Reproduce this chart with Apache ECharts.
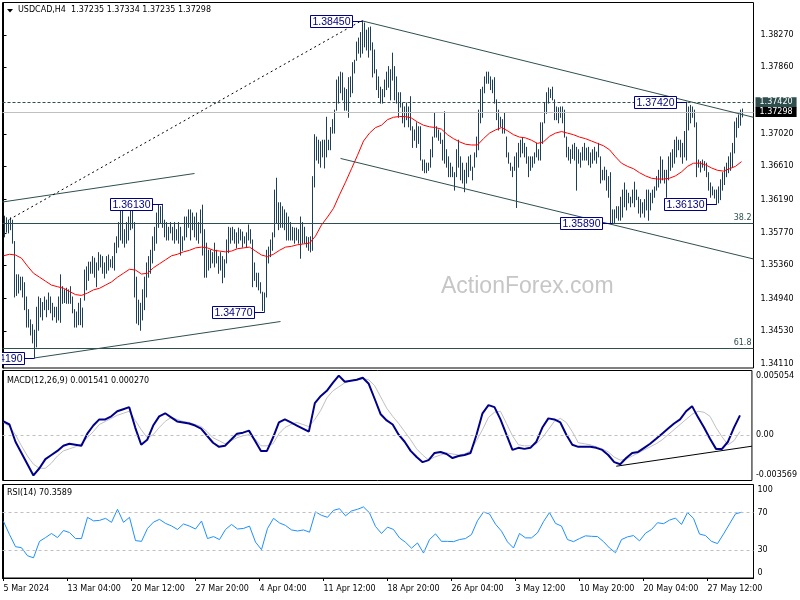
<!DOCTYPE html>
<html><head><meta charset="utf-8">
<script src="https://cdn.jsdelivr.net/npm/echarts@6/dist/echarts.min.js"></script>
<style>html,body{margin:0;padding:0;background:#fff}#c{width:800px;height:600px}</style>
</head><body><div id="c"></div>
<script>
// ---------- DATA ----------
const symbolName = 'USDCAD,H4';
const lastBarOHLC = [1.37235, 1.37334, 1.37235, 1.37298];
const timeLabels = ['5 Mar 2024','13 Mar 04:00','20 Mar 12:00','27 Mar 20:00','4 Apr 04:00','11 Apr 12:00','18 Apr 20:00','26 Apr 04:00','3 May 12:00','10 May 20:00','20 May 04:00','27 May 12:00'];
const barsPerLabel = 32;

const highs = [
1.3598,1.3596,1.3593,1.3596,1.3593,1.3566,1.3524,1.3524,1.3521,1.3521,
1.3514,1.3496,1.3480,1.3467,1.3461,1.3454,1.3483,1.3496,1.3494,1.3489,
1.3496,1.3492,1.3501,1.3496,1.3488,1.3483,1.3483,1.3496,1.3524,1.3509,
1.3505,1.3507,1.3505,1.3509,1.3496,1.3480,1.3477,1.3488,1.3494,1.3482,
1.3530,1.3534,1.3540,1.3540,1.3547,1.3545,1.3539,1.3552,1.3549,1.3547,
1.3539,1.3547,1.3549,1.3543,1.3547,1.3564,1.3572,1.3590,1.3613,1.3606,
1.3581,1.3590,1.3597,1.3612,1.3606,1.3590,1.3521,1.3492,1.3488,1.3505,
1.3521,1.3539,1.3547,1.3555,1.3572,1.3584,1.3602,1.3612,1.3610,1.3613,
1.3593,1.3590,1.3584,1.3590,1.3584,1.3590,1.3581,1.3590,1.3584,1.3572,
1.3597,1.3597,1.3606,1.3606,1.3602,1.3597,1.3602,1.3590,1.3606,1.3612,
1.3581,1.3564,1.3555,1.3555,1.3552,1.3564,1.3555,1.3547,1.3552,1.3547,
1.3543,1.3568,1.3584,1.3583,1.3584,1.3581,1.3577,1.3583,1.3581,1.3578,
1.3572,1.3577,1.3587,1.3581,1.3568,1.3539,1.3526,1.3526,1.3514,1.3502,
1.3501,1.3555,1.3559,1.3568,1.3577,1.3631,1.3646,1.3615,1.3615,1.3610,
1.3606,1.3602,1.3597,1.3590,1.3584,1.3583,1.3583,1.3581,1.3597,1.3590,
1.3584,1.3572,1.3571,1.3572,1.3648,1.3701,1.3698,1.3694,1.3692,1.3694,
1.3694,1.3723,1.3694,1.3710,1.3720,1.3732,1.3770,1.3774,1.3780,1.3779,
1.3760,1.3758,1.3773,1.3774,1.3792,1.3795,1.3818,1.3823,1.3830,1.3845,
1.3842,1.3833,1.3836,1.3837,1.3817,1.3808,1.3783,1.3774,1.3761,1.3758,
1.3770,1.3780,1.3787,1.3783,1.3804,1.3787,1.3774,1.3754,1.3754,1.3741,
1.3736,1.3741,1.3736,1.3749,1.3711,1.3707,1.3716,1.3711,1.3711,1.3669,
1.3669,1.3665,1.3665,1.3682,1.3698,1.3728,1.3711,1.3707,1.3703,1.3694,
1.3730,1.3682,1.3673,1.3665,1.3660,1.3653,1.3682,1.3694,1.3673,1.3665,
1.3656,1.3665,1.3673,1.3675,1.3660,1.3678,1.3698,1.3732,1.3758,1.3761,
1.3774,1.3780,1.3780,1.3774,1.3770,1.3773,1.3745,1.3732,1.3723,1.3720,
1.3728,1.3698,1.3678,1.3665,1.3660,1.3673,1.3678,1.3690,1.3694,1.3697,
1.3690,1.3685,1.3673,1.3673,1.3673,1.3678,1.3690,1.3682,1.3716,1.3716,
1.3741,1.3754,1.3760,1.3758,1.3761,1.3745,1.3736,1.3735,1.3736,1.3736,
1.3732,1.3698,1.3685,1.3682,1.3688,1.3690,1.3685,1.3682,1.3678,1.3685,
1.3690,1.3684,1.3685,1.3678,1.3682,1.3685,1.3679,1.3690,1.3673,1.3656,
1.3660,1.3656,1.3648,1.3653,1.3606,1.3606,1.3610,1.3610,1.3622,1.3631,
1.3640,1.3631,1.3627,1.3622,1.3631,1.3641,1.3631,1.3622,1.3619,1.3615,
1.3619,1.3631,1.3631,1.3627,1.3631,1.3635,1.3648,1.3656,1.3673,1.3669,
1.3656,1.3656,1.3673,1.3678,1.3682,1.3694,1.3698,1.3694,1.3694,1.3690,
1.3705,1.3742,1.3736,1.3738,1.3736,1.3732,1.3716,1.3669,1.3667,1.3669,
1.3667,1.3665,1.3653,1.3640,1.3635,1.3631,1.3631,1.3635,1.3644,1.3653,
1.3660,1.3665,1.3673,1.3678,1.3690,1.3717,1.3722,1.3726,1.3732,1.37334
];
const lows = [
1.3572,1.3578,1.3577,1.3581,1.3564,1.3496,1.3498,1.3501,1.3505,1.3496,
1.3480,1.3458,1.3458,1.3448,1.3438,1.3419,1.3433,1.3454,1.3471,1.3467,
1.3480,1.3471,1.3480,1.3476,1.3467,1.3471,1.3464,1.3467,1.3464,1.3488,
1.3489,1.3488,1.3488,1.3488,1.3476,1.3458,1.3458,1.3461,1.3461,1.3458,
1.3492,1.3505,1.3517,1.3526,1.3526,1.3521,1.3509,1.3530,1.3534,1.3526,
1.3520,1.3526,1.3530,1.3534,1.3533,1.3530,1.3552,1.3559,1.3568,1.3564,
1.3559,1.3564,1.3568,1.3581,1.3583,1.3496,1.3463,1.3461,1.3454,1.3467,
1.3480,1.3496,1.3521,1.3526,1.3539,1.3555,1.3564,1.3584,1.3590,1.3584,
1.3572,1.3568,1.3568,1.3577,1.3568,1.3564,1.3568,1.3564,1.3549,1.3555,
1.3568,1.3572,1.3584,1.3568,1.3581,1.3572,1.3568,1.3564,1.3577,1.3549,
1.3521,1.3521,1.3530,1.3533,1.3539,1.3534,1.3539,1.3526,1.3530,1.3514,
1.3521,1.3539,1.3552,1.3564,1.3568,1.3564,1.3558,1.3564,1.3568,1.3559,
1.3564,1.3559,1.3568,1.3564,1.3509,1.3517,1.3509,1.3505,1.3501,1.3479,
1.3477,1.3496,1.3539,1.3547,1.3555,1.3572,1.3590,1.3581,1.3584,1.3584,
1.3581,1.3568,1.3568,1.3568,1.3568,1.3564,1.3568,1.3564,1.3545,1.3564,
1.3564,1.3559,1.3555,1.3553,1.3555,1.3635,1.3669,1.3665,1.3660,1.3673,
1.3659,1.3673,1.3682,1.3682,1.3703,1.3703,1.3732,1.3741,1.3754,1.3745,
1.3732,1.3732,1.3723,1.3749,1.3754,1.3779,1.3795,1.3804,1.3799,1.3804,
1.3812,1.3808,1.3799,1.3808,1.3774,1.3779,1.3758,1.3748,1.3741,1.3741,
1.3749,1.3758,1.3761,1.3745,1.3770,1.3745,1.3741,1.3723,1.3736,1.3716,
1.3711,1.3720,1.3711,1.3707,1.3685,1.3694,1.3685,1.3690,1.3669,1.3656,
1.3653,1.3653,1.3656,1.3660,1.3673,1.3698,1.3698,1.3694,1.3690,1.3669,
1.3665,1.3660,1.3648,1.3648,1.3648,1.3631,1.3648,1.3660,1.3644,1.3640,
1.3629,1.3640,1.3648,1.3656,1.3644,1.3660,1.3673,1.3682,1.3716,1.3723,
1.3754,1.3766,1.3766,1.3758,1.3754,1.3741,1.3720,1.3707,1.3711,1.3703,
1.3703,1.3673,1.3665,1.3656,1.3648,1.3656,1.3609,1.3660,1.3673,1.3678,
1.3673,1.3665,1.3648,1.3656,1.3660,1.3665,1.3673,1.3669,1.3669,1.3690,
1.3716,1.3728,1.3741,1.3748,1.3745,1.3720,1.3720,1.3716,1.3723,1.3716,
1.3698,1.3673,1.3669,1.3665,1.3671,1.3669,1.3631,1.3665,1.3660,1.3669,
1.3669,1.3669,1.3663,1.3660,1.3665,1.3669,1.3665,1.3673,1.3640,1.3644,
1.3644,1.3631,1.3622,1.3590,1.3589,1.3590,1.3596,1.3593,1.3593,1.3597,
1.3610,1.3606,1.3615,1.3610,1.3615,1.3610,1.3619,1.3602,1.3597,1.3602,
1.3597,1.3606,1.3593,1.3606,1.3615,1.3622,1.3631,1.3635,1.3640,1.3644,
1.3640,1.3622,1.3644,1.3656,1.3660,1.3665,1.3673,1.3682,1.3673,1.3665,
1.3673,1.3669,1.3707,1.3716,1.3723,1.3711,1.3648,1.3660,1.3654,1.3660,
1.3656,1.3648,1.3631,1.3622,1.3625,1.3621,1.3613,1.3615,1.3619,1.3631,
1.3638,1.3648,1.3653,1.3656,1.3660,1.3678,1.3698,1.3710,1.3713,1.37235
];

// indicator lines, one value every `lineStep` bars
const lineStep = 3;
const maLine = [
1.3548,1.3550,1.3549,1.3545,1.3535,1.3526,1.3521,1.3516,1.3511,1.3509,
1.3507,1.3503,1.3499,1.3498,1.3501,1.3505,1.3507,1.3511,1.3515,1.3521,
1.3526,1.3531,1.3530,1.3525,1.3526,1.3533,1.3538,1.3543,1.3548,1.3550,
1.3553,1.3555,1.3558,1.3559,1.3558,1.3555,1.3554,1.3553,1.3554,1.3557,
1.3558,1.3559,1.3554,1.3549,1.3547,1.3550,1.3555,1.3559,1.3560,1.3562,
1.3563,1.3564,1.3573,1.3587,1.3597,1.3608,1.3625,1.3641,1.3658,1.3675,
1.3693,1.3703,1.3710,1.3713,1.3720,1.3723,1.3724,1.3724,1.3722,1.3717,
1.3713,1.3711,1.3710,1.3708,1.3701,1.3696,1.3692,1.3689,1.3688,1.3688,
1.3696,1.3703,1.3707,1.3710,1.3706,1.3701,1.3698,1.3697,1.3694,1.3690,
1.3692,1.3699,1.3703,1.3705,1.3703,1.3701,1.3698,1.3696,1.3693,1.3690,
1.3687,1.3682,1.3673,1.3665,1.3661,1.3658,1.3653,1.3649,1.3646,1.3645,
1.3645,1.3646,1.3649,1.3654,1.3661,1.3665,1.3665,1.3663,1.3659,1.3656,
1.3655,1.3658,1.3661,1.3667
];
const macdLine = [
0.00106,0.00082,-0.00053,-0.00141,-0.00229,-0.00317,-0.00261,-0.00189,-0.00157,-0.00125,
-0.00085,-0.00069,-0.00077,-0.00085,0.00010,0.00074,0.00122,0.00122,0.00146,0.00186,
0.00202,0.00218,0.00058,-0.00077,-0.00038,0.00074,0.00146,0.00170,0.00138,0.00106,
0.00098,0.00090,0.00074,0.00050,-0.00006,-0.00061,-0.00093,-0.00085,-0.00038,0.00010,
0.00018,0.00034,-0.00045,-0.00125,-0.00125,-0.00022,0.00098,0.00122,0.00098,0.00074,
0.00050,0.00026,0.00250,0.00306,0.00346,0.00409,0.00465,0.00417,0.00425,0.00433,
0.00449,0.00401,0.00282,0.00162,0.00114,0.00082,0.00002,-0.00053,-0.00125,-0.00173,
-0.00213,-0.00197,-0.00141,-0.00133,-0.00149,-0.00181,-0.00165,-0.00157,-0.00141,0.00002,
0.00170,0.00234,0.00218,0.00122,0.00002,-0.00117,-0.00101,-0.00109,-0.00101,-0.00053,
0.00058,0.00130,0.00122,0.00098,0.00002,-0.00077,-0.00093,-0.00093,-0.00093,-0.00101,
-0.00117,-0.00157,-0.00213,-0.00229,-0.00181,-0.00141,-0.00133,-0.00101,-0.00069,-0.00030,
0.00010,0.00050,0.00090,0.00122,0.00186,0.00226,0.00138,0.00058,-0.00030,-0.00109,
-0.00109,-0.00053,0.00058,0.001541
];
const signalLine = [
0.00098,0.00066,0.00002,-0.00085,-0.00165,-0.00229,-0.00261,-0.00261,-0.00221,-0.00165,
-0.00125,-0.00109,-0.00093,-0.00069,-0.00022,0.00026,0.00082,0.00106,0.00130,0.00154,
0.00170,0.00186,0.00114,0.00042,-0.00022,0.00002,0.00058,0.00106,0.00138,0.00122,
0.00106,0.00098,0.00082,0.00066,0.00026,-0.00022,-0.00045,-0.00069,-0.00045,-0.00022,
-0.00006,0.00002,-0.00030,-0.00085,-0.00085,-0.00069,0.00010,0.00058,0.00082,0.00098,
0.00082,0.00066,0.00122,0.00194,0.00290,0.00346,0.00377,0.00409,0.00425,0.00433,
0.00441,0.00433,0.00385,0.00298,0.00210,0.00146,0.00090,0.00026,-0.00038,-0.00109,
-0.00157,-0.00197,-0.00173,-0.00157,-0.00141,-0.00149,-0.00157,-0.00149,-0.00125,-0.00045,
0.00042,0.00138,0.00178,0.00186,0.00090,-0.00006,-0.00077,-0.00085,-0.00085,-0.00069,
-0.00022,0.00042,0.00106,0.00130,0.00098,0.00026,-0.00061,-0.00069,-0.00077,-0.00093,
-0.00109,-0.00133,-0.00173,-0.00197,-0.00189,-0.00165,-0.00141,-0.00117,-0.00093,-0.00069,
-0.00038,0.00002,0.00042,0.00082,0.00122,0.00162,0.00186,0.00178,0.00146,0.00058,
-0.00014,-0.00077,-0.00045,0.00027
];
const rsiLine = [
60.5,46.5,33.5,32.4,23.8,21.6,39.2,43.2,47.6,43.2,
50.8,48.6,42.2,42.2,64.9,61.1,61.6,63.8,59.5,73.5,
59.5,64.9,40.0,39.2,53.0,59.8,62.7,58.4,55.7,51.9,
57.8,55.5,52.4,60.9,42.2,44.3,41.1,51.9,57.3,52.4,
53.0,55.5,38.4,30.3,53.0,63.8,58.9,56.2,51.4,50.3,
51.4,49.0,70.8,67.0,64.9,72.4,74.1,66.5,71.7,73.5,
76.0,69.7,55.1,47.6,54.4,51.9,42.9,38.2,31.9,37.5,
26.7,41.1,47.2,39.2,39.2,38.9,41.1,42.2,46.5,61.3,
70.6,68.4,57.6,50.1,38.6,32.1,47.6,42.9,42.9,48.3,
60.3,70.0,58.4,55.5,41.1,38.9,42.2,45.1,44.6,44.3,
38.9,32.1,27.0,41.1,44.0,45.4,39.7,47.9,51.9,59.1,
58.1,61.9,64.1,57.3,70.0,63.8,47.0,45.4,39.2,36.8,
47.0,57.8,68.6,70.3589
];

// axis tick labels
const priceTicks = [1.38270,1.37860,1.37020,1.36610,1.36190,1.35770,1.35360,1.34940,1.34530,1.34110];
const macdTicks = [0.005054, 0, -0.003569];
const macdTickText = ['0.005054', '0.00', '-0.003569'];
const rsiTicks = [100, 70, 30, 0];
const rsiLevels = [70, 30];

// levels and drawings (bar index, price)
const lastPrice = 1.37298;
const resistanceLevel = 1.37420;
const fib382 = 1.35890, fib618 = 1.34315;
const priceNotes = [[179,1.38450],[79,1.36130],[130,1.34770],[15,1.34190],[304,1.35890],[341,1.37420],[356,1.36130]];
const channelLines = [
  [[179,1.3845],[375,1.3723]],
  [[168.5,1.3671],[375,1.3544]],
  [[15.5,1.3419],[138.5,1.3465]],
  [[-0.5,1.3616],[95.5,1.3652]]
];
const dottedLine = [[3,1.3594],[179,1.3845]];
const macdTrend = [[307,-0.00245],[375,-0.00088]];

// ---------- CHART ----------
const FONT = 'DejaVu Sans';
const BAR_COLOR = '#1f3f56';
const SLATE = '#2f4f4f';
const X_MIN = -0.5, X_MAX = 375;
const lineData = arr => arr.map((v, k) => [k * lineStep, v]);

const tag = (bg, text) => ({
  show: true, position: 'end', distance: 2, formatter: text,
  color: '#fff', backgroundColor: bg, padding: [1, 4, 0, 4],
  fontFamily: FONT, fontSize: 8, lineHeight: 9
});
const fibLabel = text => ({
  show: true, position: 'insideEndTop', distance: [2, 1], formatter: text,
  color: SLATE, fontFamily: FONT, fontSize: 8
});
const seg = (pts, style) => [{coord: pts[0], lineStyle: style}, {coord: pts[1]}];

const grids = [
  {left: 2.5, top: 2.5, width: 751, height: 365.5},
  {left: 2.5, top: 370.5, width: 751, height: 110},
  {left: 2.5, top: 484.5, width: 751, height: 93.5}
].map(g => Object.assign(g, {show: true, borderColor: '#000', borderWidth: 1, backgroundColor: 'transparent', containLabel: false}));

const hiddenX = gi => ({gridIndex: gi, type: 'value', min: X_MIN, max: X_MAX, show: false, splitLine: {show: false}});
const labelCustom = timeLabels.map((_, k) => k * barsPerLabel);

const option = {
  animation: false,
  backgroundColor: '#fff',
  grid: grids,
  xAxis: [
    hiddenX(0), hiddenX(1),
    {gridIndex: 2, type: 'value', min: X_MIN, max: X_MAX, splitLine: {show: false},
     axisLine: {show: true, lineStyle: {color: '#000'}},
     axisTick: {show: true, length: 3, customValues: labelCustom, lineStyle: {color: '#000'}},
     axisLabel: {customValues: labelCustom, align: 'left', margin: 7, color: '#000', fontFamily: FONT, fontSize: 8,
       formatter: v => timeLabels[Math.round(v / barsPerLabel)] || ''}}
  ],
  yAxis: [
    {gridIndex: 0, type: 'value', position: 'right', min: 1.34063, max: 1.38680, splitLine: {show: false},
     axisLine: {show: true, lineStyle: {color: '#000'}},
     axisTick: {show: true, length: 3, customValues: priceTicks, lineStyle: {color: '#000'}},
     axisLabel: {customValues: priceTicks, margin: 7, color: '#000', fontFamily: FONT, fontSize: 8,
       formatter: v => v.toFixed(5)}},
    {gridIndex: 1, type: 'value', position: 'right', min: -0.003569, max: 0.005054, splitLine: {show: false},
     axisLine: {show: true, lineStyle: {color: '#000'}},
     axisTick: {show: false},
     axisLabel: {customValues: macdTicks, margin: 4, color: '#000', fontFamily: FONT, fontSize: 8, lineHeight: 11,
       formatter: v => {
         let k = 0; macdTicks.forEach((t, j) => { if (Math.abs(t - v) < 1e-7) k = j; });
         if (k === 0) return '\n' + macdTickText[k];
         if (k === macdTicks.length - 1) return macdTickText[k] + '\n';
         return macdTickText[k];
       }}},
    {gridIndex: 2, type: 'value', position: 'right', min: 0, max: 100, splitLine: {show: false},
     axisLine: {show: true, lineStyle: {color: '#000'}},
     axisTick: {show: false},
     axisLabel: {customValues: rsiTicks, margin: 4, color: '#000', fontFamily: FONT, fontSize: 8, lineHeight: 10,
       formatter: v => v === 100 ? '\n100' : (v === 0 ? '0\n' : String(v))}}
  ],
  series: [
    {
      type: 'custom', xAxisIndex: 0, yAxisIndex: 0, clip: true, silent: true, z: 2,
      data: highs.map((h, i) => [i, h, lows[i]]),
      encode: {x: 0, y: [1, 2]},
      renderItem: (params, api) => {
        const top = api.coord([api.value(0), api.value(1)]);
        const bot = api.coord([api.value(0), api.value(2)]);
        const x = Math.round(top[0]) + 0.5;
        return {type: 'line', shape: {x1: x, y1: top[1] - 0.5, x2: x, y2: bot[1] + 0.5},
                style: {stroke: BAR_COLOR, lineWidth: 1}};
      }
    },
    {
      type: 'line', xAxisIndex: 0, yAxisIndex: 0, z: 3, silent: true,
      data: lineData(maLine), showSymbol: false, symbol: 'none',
      lineStyle: {color: '#ff0000', width: 1},
      markLine: {
        silent: true, symbol: ['none', 'none'], animation: false, precision: 5,
        label: {show: false},
        data: [
          {yAxis: resistanceLevel, lineStyle: {color: SLATE, type: [3, 2], width: 1}, label: tag(SLATE, resistanceLevel.toFixed(5))},
          {yAxis: lastPrice, lineStyle: {color: '#c0c0c0', type: 'solid', width: 1}, label: tag('#000', lastPrice.toFixed(5))},
          {yAxis: fib382, lineStyle: {color: SLATE, type: 'solid', width: 1}, label: fibLabel('38.2')},
          {yAxis: fib382, lineStyle: {opacity: 0}, label: tag(SLATE, fib382.toFixed(5))},
          {yAxis: fib618, lineStyle: {color: SLATE, type: 'solid', width: 1}, label: fibLabel('61.8')},
          ...channelLines.map(l => seg(l, {color: SLATE, type: 'solid', width: 1})),
          seg(dottedLine, {color: '#000', type: [2, 3], width: 1})
        ]
      }
    },
    {
      type: 'custom', xAxisIndex: 0, yAxisIndex: 0, clip: true, silent: true, z: 6,
      data: priceNotes,
      encode: {x: 0, y: 1},
      renderItem: (params, api) => {
        const p = api.coord([api.value(0), api.value(1)]);
        const bx = Math.round(p[0]);
        const right = bx - 10;
        const cy = Math.round(p[1]) + 0.5;
        return {type: 'group', children: [
          {type: 'line', shape: {x1: right, y1: cy, x2: bx + 0.5, y2: cy}, style: {stroke: '#000080', lineWidth: 1}},
          {type: 'rect', shape: {x: right - 42 + 0.5, y: cy - 6, width: 42, height: 12}, style: {fill: '#fff', stroke: '#000080', lineWidth: 1}},
          {type: 'text', style: {text: api.value(1).toFixed(5), x: right - 20.5, y: cy + 0.5, align: 'center', verticalAlign: 'middle',
            fill: '#000080', font: '10.5px "Liberation Sans"'}}
        ]};
      }
    },
    {
      type: 'line', xAxisIndex: 1, yAxisIndex: 1, z: 3, silent: true,
      data: lineData(signalLine), showSymbol: false, symbol: 'none',
      lineStyle: {color: '#c0c0c0', width: 1},
      markLine: {
        silent: true, symbol: ['none', 'none'], label: {show: false},
        data: [
          {yAxis: 0, lineStyle: {color: '#c0c0c0', type: [3, 3], width: 1}},
          seg(macdTrend, {color: '#000', type: 'solid', width: 1})
        ]
      }
    },
    {
      type: 'line', xAxisIndex: 1, yAxisIndex: 1, z: 4, silent: true,
      data: lineData(macdLine), showSymbol: false, symbol: 'none',
      lineStyle: {color: '#00008b', width: 2}
    },
    {
      type: 'line', xAxisIndex: 2, yAxisIndex: 2, z: 4, silent: true,
      data: lineData(rsiLine), showSymbol: false, symbol: 'none',
      lineStyle: {color: '#1e90ff', width: 1},
      markLine: {
        silent: true, symbol: ['none', 'none'], label: {show: false},
        data: rsiLevels.map(v => ({yAxis: v, lineStyle: {color: '#c0c0c0', type: [3, 3], width: 1}}))
      }
    }
  ],
  graphic: [
    {type: 'polygon', z: 10, shape: {points: [[7, 9], [13, 9], [10, 12.5]]}, style: {fill: '#000'}},
    {type: 'text', z: 10, left: 18, top: 6, style: {text: symbolName + '  ' + lastBarOHLC.map(v => v.toFixed(5)).join(' '),
      font: '8px "DejaVu Sans"', fill: '#000'}},
    {type: 'text', z: 10, left: 7, top: 377, style: {text: 'MACD(12,26,9) ' + macdLine[macdLine.length - 1].toFixed(6) + ' ' + signalLine[signalLine.length - 1].toFixed(6),
      font: '8px "DejaVu Sans"', fill: '#000'}},
    {type: 'text', z: 10, left: 7, top: 489, style: {text: 'RSI(14) ' + rsiLine[rsiLine.length - 1].toFixed(4),
      font: '8px "DejaVu Sans"', fill: '#000'}},
    {type: 'text', z: 1, left: 441, top: 275, style: {text: 'ActionForex.com', font: '23px "Liberation Sans"', fill: '#c6c6c6'}}
  ]
};

const chart = echarts.init(document.getElementById('c'), null, {renderer: 'canvas'});
chart.setOption(option);
</script>
</body></html>
